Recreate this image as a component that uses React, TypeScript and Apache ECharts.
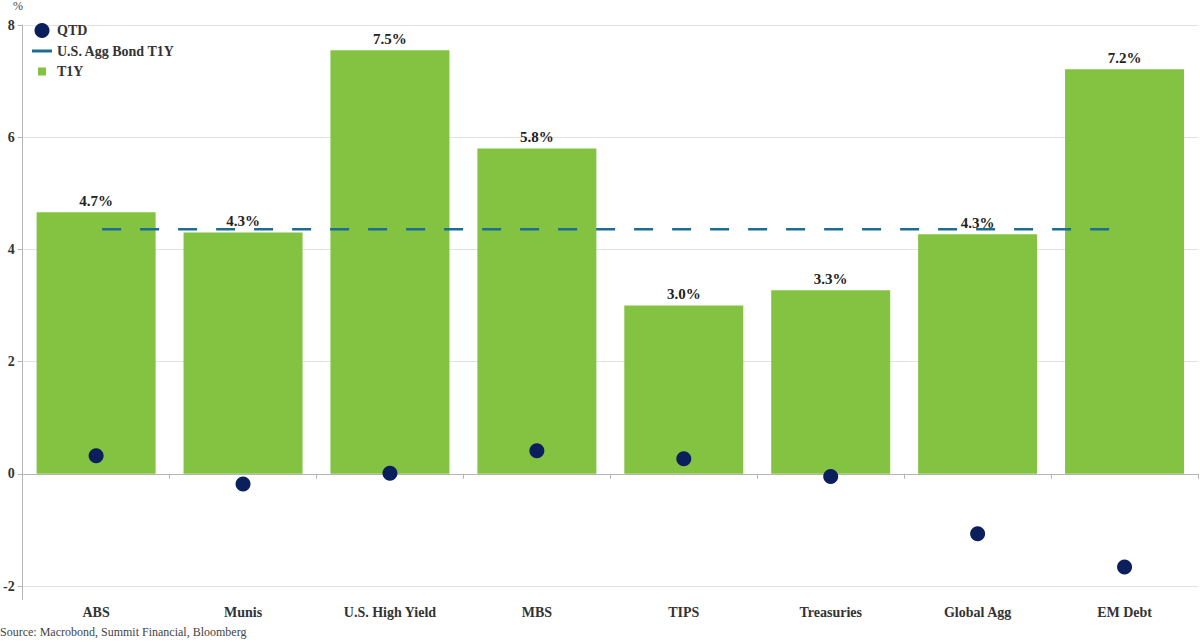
import React, { useEffect, useRef } from "react";
import * as echarts from "echarts";

const categories = ["ABS", "Munis", "U.S. High Yield", "MBS", "TIPS", "Treasuries", "Global Agg", "EM Debt"];
const t1yValues = [4.66, 4.3, 7.55, 5.8, 3.0, 3.27, 4.27, 7.21];
const t1yLabels = ["4.7%", "4.3%", "7.5%", "5.8%", "3.0%", "3.3%", "4.3%", "7.2%"];
const qtdValues = [0.32, -0.18, 0.01, 0.41, 0.27, -0.05, -1.07, -1.66];
const aggValue = 4.36;
const yTicks = { min: -2, max: 8, interval: 2 };

const FONT = "'Liberation Serif', 'DejaVu Serif', serif";

export default function App() {
  const ref = useRef<HTMLDivElement>(null);
  useEffect(() => {
    if (!ref.current) return;
    const chart = echarts.init(ref.current, undefined, { renderer: "svg" });
    chart.setOption({
      animation: false,
      backgroundColor: "#ffffff",
      grid: { left: 22, right: 2, top: 25, bottom: 57, containLabel: false },
      legend: {
        orient: "vertical",
        left: 27,
        top: 18,
        itemWidth: 20,
        itemHeight: 15,
        itemGap: 6,
        textStyle: { fontFamily: FONT, fontSize: 14, fontWeight: "bold", color: "#333" },
        data: [
          { name: "QTD", icon: "circle" },
          { name: "U.S. Agg Bond T1Y", icon: "path://M0,6H20V9H0Z" },
          { name: "T1Y", icon: "path://M0,0L0.01,0ZM6,3.5H14V11.5H6ZM20,15L20.01,15Z" },
        ],
      },
      xAxis: {
        type: "category",
        data: categories,
        offset: 9,
        axisLine: { show: true, lineStyle: { color: "#b5b5b5" } },
        axisTick: { show: true, length: 5, lineStyle: { color: "#b5b5b5" } },
        axisLabel: { fontFamily: FONT, fontSize: 14, fontWeight: "bold", color: "#333", margin: 10 },
      },
      yAxis: {
        type: "value",
        min: yTicks.min,
        max: yTicks.max,
        interval: yTicks.interval,
        axisLine: { show: true, lineStyle: { color: "#b5b5b5" } },
        axisTick: { show: true, length: 5, lineStyle: { color: "#b5b5b5" } },
        axisLabel: { fontFamily: FONT, fontSize: 14, fontWeight: "bold", color: "#333", margin: 8 },
        splitLine: { show: true, lineStyle: { color: "#e2e2e2" } },
      },
      series: [
        {
          name: "T1Y",
          type: "bar",
          data: t1yValues,
          barCategoryGap: "19%",
          itemStyle: { color: "#84c341" },
          label: {
            show: true,
            position: "top",
            distance: 4,
            formatter: (p: any) => t1yLabels[p.dataIndex],
            fontFamily: FONT,
            fontSize: 15,
            fontWeight: "bold",
            color: "#222",
          },
          z: 1,
        },
        {
          name: "U.S. Agg Bond T1Y",
          type: "line",
          data: categories.map(() => aggValue),
          symbol: "none",
          lineStyle: { color: "#1b6d93", width: 2.5, type: [19, 19], dashOffset: 32 },
          itemStyle: { color: "#1b6d93" },
          z: 3,
        },
        {
          name: "QTD",
          type: "scatter",
          data: qtdValues,
          symbol: "circle",
          symbolSize: 15,
          itemStyle: { color: "#0a1f5c", opacity: 1 },
          z: 4,
        },
      ],
      graphic: [
        {
          type: "line",
          shape: { x1: 22.5, y1: 586, x2: 22.5, y2: 600 },
          style: { stroke: "#b5b5b5", lineWidth: 1 },
        },
        {
          type: "text",
          left: 13,
          top: 0,
          style: { text: "%", fontFamily: FONT, fontSize: 12, fill: "#444" },
        },
        {
          type: "text",
          left: 0,
          top: 626,
          style: {
            text: "Source: Macrobond, Summit Financial, Bloomberg",
            fontFamily: FONT,
            fontSize: 12,
            fill: "#444",
          },
        },
      ],
    });
    return () => chart.dispose();
  }, []);
  return <div ref={ref} style={{ width: 1200, height: 643, position: "absolute", left: 0, top: 0 }} />;
}
